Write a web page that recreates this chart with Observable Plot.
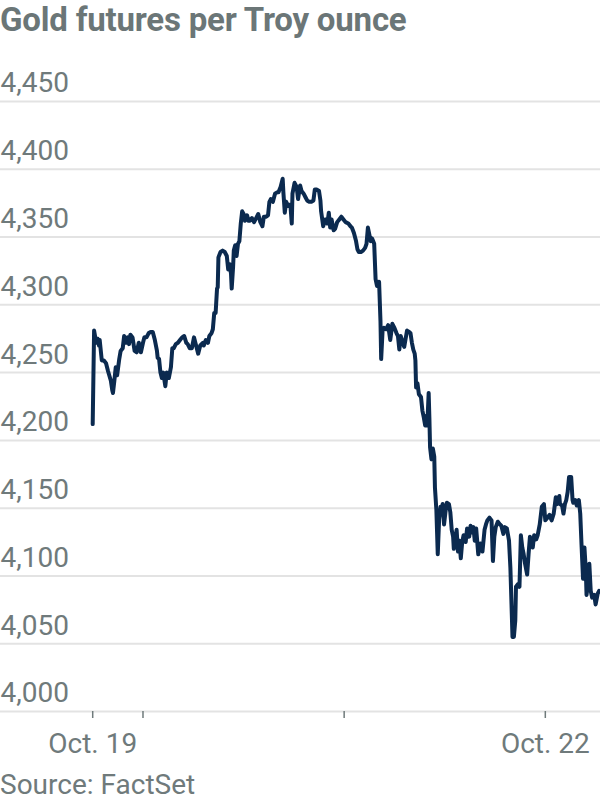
<!DOCTYPE html>
<html>
<head>
<meta charset="utf-8">
<script src="https://cdn.jsdelivr.net/npm/d3@7"></script>
<script src="https://cdn.jsdelivr.net/npm/@observablehq/plot@0.6"></script>
<style>
  html, body { margin: 0; padding: 0; background: #fff; }
  body { width: 600px; height: 800px; position: relative; overflow: hidden; font-family: Roboto, "Noto Sans", sans-serif; }
  #title { position: absolute; left: 0; top: 3px; font-size: 33px; line-height: 33px; font-weight: 700; color: #6b7677; white-space: nowrap; letter-spacing: -0.2px; }
  #chart { position: absolute; left: 0; top: 50px; }
  #source { position: absolute; left: 0; top: 771px; font-size: 28px; line-height: 28px; color: #6f7a7b; white-space: nowrap; }
</style>
</head>
<body>
<div id="title">Gold futures per Troy ounce</div>
<div id="chart"></div>
<div id="source">Source: FactSet</div>
<script>
// Timestamps (day of October 2025, HH:MM)
const times = [
"19 18:00","19 18:10","19 18:25","19 18:35","19 18:45","19 18:50","19 19:05","19 19:20","19 19:35","19 19:50",
"19 20:10","19 20:20","19 20:25","19 20:35","19 20:45","19 20:55","19 21:10","19 21:20","19 21:35","19 21:45",
"19 22:00","19 22:10","19 22:20","19 22:30","19 22:45","19 23:00","19 23:15","19 23:30","19 23:45",
"20 00:00","20 00:10","20 00:25","20 00:40","20 00:55","20 01:10","20 01:25","20 01:40","20 01:45","20 01:55",
"20 02:05","20 02:15","20 02:25","20 02:40","20 02:50","20 03:05","20 03:20","20 03:30","20 03:40","20 03:55",
"20 04:10","20 04:25","20 04:40","20 04:55","20 05:10","20 05:20","20 05:35","20 05:50","20 06:05","20 06:20",
"20 06:35","20 06:50","20 07:10","20 07:15","20 07:30","20 07:45","20 07:55","20 08:10","20 08:20","20 08:30",
"20 08:40","20 08:50","20 08:55","20 09:00","20 09:15","20 09:30","20 09:45","20 10:00","20 10:10","20 10:20",
"20 10:30","20 10:35","20 10:45","20 10:50","20 11:00","20 11:10","20 11:20","20 11:30","20 11:40","20 11:50",
"20 12:00","20 12:10","20 12:25","20 12:35","20 12:45","20 13:00","20 13:15","20 13:30","20 13:45","20 14:00",
"20 14:15","20 14:25","20 14:40","20 14:55","20 15:05","20 15:15","20 15:30","20 15:45","20 16:00","20 16:10",
"20 16:25","20 16:40","20 16:45","20 16:55","20 17:05","20 17:20","20 17:35","20 17:45","20 17:50","20 18:05",
"20 18:20","20 18:30","20 18:45","20 18:55","20 19:10","20 19:25","20 19:35","20 19:50","20 20:05","20 20:20",
"20 20:30","20 20:45","20 21:00","20 21:10","20 21:15","20 21:30","20 21:45","20 22:00","20 22:10","20 22:20",
"20 22:30","20 22:45","20 22:55","20 23:10","20 23:25","20 23:40","20 23:55",
"21 00:10","21 00:30","21 00:45","21 00:55","21 01:10","21 01:25","21 01:35","21 01:45","21 02:00","21 02:15",
"21 02:30","21 02:40","21 02:50","21 03:00","21 03:10","21 03:20","21 03:35","21 03:45","21 03:55","21 04:10",
"21 04:20","21 04:25","21 04:35","21 04:45","21 05:00","21 05:15","21 05:30","21 05:45","21 06:00","21 06:15",
"21 06:25","21 06:35","21 06:45","21 07:00","21 07:10","21 07:20","21 07:30","21 07:45","21 07:55","21 08:05",
"21 08:15","21 08:25","21 08:30","21 08:35","21 08:45","21 08:55","21 09:10","21 09:20","21 09:30","21 09:40",
"21 09:45","21 09:55","21 10:05","21 10:10","21 10:15","21 10:25","21 10:35","21 10:45","21 10:50","21 11:00",
"21 11:10","21 11:20","21 11:30","21 11:35","21 11:45","21 11:55","21 12:05","21 12:15","21 12:30","21 12:40",
"21 12:50","21 13:00","21 13:05","21 13:15","21 13:25","21 13:35","21 13:45","21 13:55","21 14:05","21 14:15",
"21 14:30","21 14:40","21 14:55","21 15:05","21 15:15","21 15:25","21 15:35","21 15:45","21 16:00","21 16:15",
"21 16:30","21 16:45","21 16:55","21 17:05","21 17:20","21 17:35","21 17:45","21 17:55","21 18:05","21 18:20",
"21 18:35","21 18:45","21 19:00","21 19:10","21 19:25","21 19:40","21 19:50","21 20:00","21 20:05","21 20:15",
"21 20:25","21 20:30","21 20:45","21 20:55","21 21:05","21 21:15","21 21:25","21 21:35","21 21:50","21 22:00",
"21 22:10","21 22:20","21 22:30","21 22:40","21 22:55","21 23:05","21 23:20","21 23:35","21 23:50",
"22 00:00","22 00:15","22 00:30","22 00:45","22 01:00","22 01:15","22 01:25","22 01:40","22 01:45","22 02:00",
"22 02:10","22 02:20","22 02:30","22 02:40","22 02:50","22 03:05","22 03:15","22 03:20","22 03:35","22 03:45",
"22 04:00","22 04:10","22 04:20","22 04:30","22 04:40","22 04:50","22 04:55","22 05:05","22 05:15","22 05:25",
"22 05:35","22 05:50","22 06:00","22 06:15","22 06:25"
];

// Gold futures price, USD per troy ounce
const prices = [
4212,4281,4272,4275,4270,4274,4259,4259,4257,4251,
4244,4237,4235,4244,4254,4248,4260,4266,4268,4277,
4272,4276,4271,4278,4276,4266,4265,4272,4265,
4272,4276,4276,4279,4280,4280,4274,4266,4261,4260,
4250,4246,4250,4240,4250,4246,4254,4268,4268,4271,
4272,4274,4276,4277,4272,4271,4268,4268,4276,4270,
4264,4270,4272,4270,4274,4272,4277,4279,4282,4294,
4294,4312,4313,4335,4339,4340,4339,4336,4326,4330,
4323,4312,4328,4340,4344,4336,4345,4347,4360,4369,
4367,4362,4366,4362,4362,4364,4361,4364,4367,4361,
4358,4365,4365,4366,4376,4378,4376,4382,4383,4383,
4387,4393,4383,4368,4376,4373,4374,4360,4382,4390,
4387,4378,4388,4384,4382,4379,4377,4376,4376,4377,
4385,4385,4384,4377,4369,4358,4363,4360,4368,4357,
4363,4355,4356,4361,4363,4365,4363,
4361,4360,4358,4357,4353,4347,4341,4339,4339,4340,
4342,4345,4357,4352,4347,4349,4345,4319,4314,4317,
4288,4260,4281,4283,4282,4285,4274,4286,4283,4279,
4277,4267,4277,4272,4269,4275,4281,4280,4279,4272,
4267,4264,4259,4239,4242,4234,4232,4222,4217,4211,
4218,4211,4235,4217,4195,4186,4194,4188,4165,4149,
4116,4142,4151,4146,4153,4138,4147,4154,4153,4147,
4134,4129,4120,4126,4134,4118,4126,4113,4125,4130,
4125,4135,4129,4137,4132,4136,4126,4135,4116,4124,
4118,4134,4138,4141,4143,4141,4111,4129,4136,4140,
4138,4137,4131,4136,4135,4126,4106,4072,4055,4055,
4067,4092,4094,4092,4130,4121,4116,4109,4101,4116,
4129,4125,4121,4130,4127,4130,4138,4151,4153,
4141,4143,4145,4141,4146,4158,4153,4159,4153,4152,
4146,4153,4156,4162,4173,4173,4156,4154,4156,4152,
4156,4146,4121,4098,4121,4104,4086,4094,4109,4089,
4084,4086,4079,4087,4089
];

// Axis ticks
const yTicks = [4000, 4050, 4100, 4150, 4200, 4250, 4300, 4350, 4400, 4450];
const xTickTimes = ["19 18:00", "20 00:00", "21 00:00", "22 00:00"];
const xTickLabels = ["Oct. 19", "", "", "Oct. 22"];
const xDomainTimes = ["19 07:00", "22 06:35"];

const parse = s => new Date(Date.UTC(2025, 9, +s.slice(0, 2), +s.slice(3, 5), +s.slice(6, 8)));
const data = times.map((t, i) => ({date: parse(t), price: prices[i]}));
const labelMap = new Map(xTickTimes.map((t, i) => [+parse(t), xTickLabels[i]]));
const grey = "#6f7a7b";

const chart = Plot.plot({
  width: 600,
  height: 710,
  marginLeft: 0,
  marginRight: 0,
  marginTop: 51,
  marginBottom: 49,
  style: {fontFamily: "Roboto, 'Noto Sans', sans-serif", background: "#fff", overflow: "visible"},
  x: {type: "utc", domain: xDomainTimes.map(parse)},
  y: {domain: [4000, 4450], axis: null},
  marks: [
    Plot.ruleY(yTicks, {stroke: "#e3e3e3", strokeWidth: 2}),
    Plot.text(yTicks, {
      y: d => d, frameAnchor: "left", text: d => d3.format(",")(d),
      textAnchor: "start", dy: -18, fontSize: 28, fill: grey
    }),
    Plot.axisX({
      ticks: xTickTimes.map(parse),
      tickFormat: d => labelMap.get(+d) ?? "",
      tickSize: 7, tickPadding: 15, fontSize: 28, stroke: grey, strokeWidth: 1.5,
      fill: grey, label: null
    }),
    Plot.lineY(data, {x: "date", y: "price", stroke: "#0b2a4f", strokeWidth: 4, strokeLinejoin: "round"})
  ]
});
document.getElementById("chart").appendChild(chart);
</script>
</body>
</html>
